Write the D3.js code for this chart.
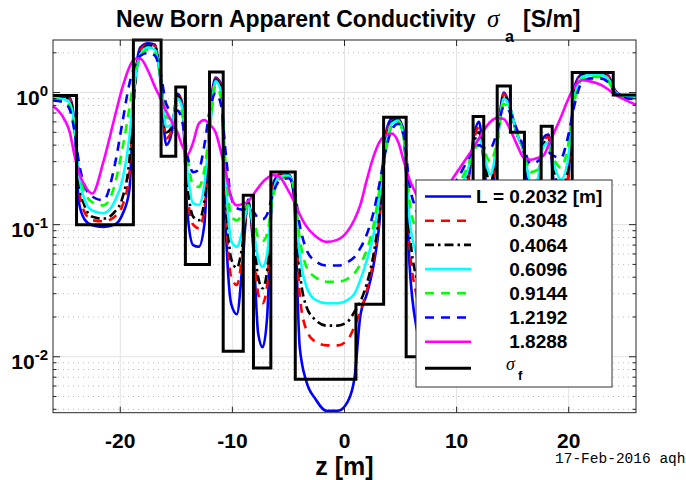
<!DOCTYPE html>
<html>
<head>
  <title>New Born Apparent Conductivity</title>
  <style>
    body { margin: 0; background: #fff; }
    svg text { font-family: "Liberation Sans", Arial, sans-serif; font-weight: bold; fill: #000; }
  </style>
</head>
<body>
  <div id="chart"></div>
  <script src="https://d3js.org/d3.v7.min.js"></script>
  <script>
    // depth samples (m), shared by every smoothed curve
    const zs = [-26,-25,-24.5,-24.1,-23.7,-23.2,-22.5,-21.5,-20.5,-19.8,
      -19.2,-18.7,-18.2,-17.5,-16.9,-16.4,-15.9,-15.4,-14.9,-14.5,
      -14,-13.5,-13,-12.5,-12,-11.5,-11,-10.6,-10.1,-9.6,
      -9.1,-8.6,-8.1,-7.7,-7.3,-6.9,-6.4,-5.8,-5,-4.5,
      -4,-3.4,-2.6,-1.6,-0.6,0.3,0.9,1.4,2,2.6,
      3.1,3.6,4.2,4.8,5.3,5.8,6.4,7.2,8,8.8,
      9.6,10.3,11,11.5,12,12.5,13,13.6,14.2,14.8,
      15.4,16,16.6,17.2,17.7,18.2,18.7,19.3,19.9,20.5,
      21.2,22,22.8,23.5,24.1,24.8,25.4,26];

    // apparent conductivity (S/m) for each spacing L
    const sigL0203 = [0.93,0.93,0.91,0.6,0.15,0.11,0.099,0.096,0.1,0.12,
      0.18,1.2,2.2,2.36,2.3,1.2,0.4,0.5,0.98,0.85,
      0.12,0.07,0.068,0.1,0.7,1.3,1.15,0.1,0.025,0.021,
      0.05,0.155,0.06,0.015,0.0118,0.02,0.2,0.24,0.24,0.16,
      0.012,0.0065,0.0048,0.0039,0.0039,0.0046,0.007,0.02,0.03,0.05,
      0.1,0.45,0.63,0.63,0.5,0.05,0.017,0.011,0.012,0.08,
      0.14,0.15,0.2,0.45,0.6,0.25,0.13,0.4,1.0,0.75,
      0.48,0.35,0.13,0.15,0.45,0.48,0.2,0.15,0.2,1.1,
      1.38,1.4,1.4,1.35,1.05,0.95,0.95,0.95];
    const sigL0305 = [0.93,0.92,0.89,0.6,0.19,0.125,0.108,0.106,0.115,0.14,
      0.24,1.1,2.1,2.32,2.25,1.3,0.45,0.52,0.96,0.82,
      0.17,0.1,0.094,0.13,0.6,1.28,1.1,0.14,0.04,0.035,
      0.06,0.15,0.07,0.03,0.0254,0.035,0.19,0.24,0.24,0.17,
      0.03,0.016,0.013,0.0122,0.0122,0.0135,0.017,0.022,0.032,0.055,
      0.11,0.38,0.62,0.62,0.45,0.07,0.03,0.02,0.025,0.09,
      0.14,0.16,0.22,0.42,0.55,0.28,0.17,0.4,0.98,0.75,
      0.48,0.36,0.16,0.18,0.43,0.46,0.22,0.17,0.22,1.0,
      1.36,1.39,1.39,1.33,1.04,0.95,0.95,0.95];
    const sigL0406 = [0.92,0.91,0.87,0.6,0.22,0.14,0.115,0.111,0.125,0.16,
      0.3,1.1,2.0,2.27,2.2,1.3,0.5,0.55,0.94,0.8,
      0.2,0.115,0.108,0.15,0.55,1.25,1.05,0.17,0.055,0.047,
      0.07,0.145,0.08,0.04,0.033,0.045,0.18,0.235,0.24,0.18,
      0.045,0.024,0.019,0.0172,0.0172,0.0185,0.022,0.026,0.036,0.06,
      0.12,0.33,0.6,0.62,0.45,0.09,0.04,0.028,0.035,0.1,
      0.15,0.17,0.24,0.4,0.5,0.3,0.2,0.4,0.95,0.75,
      0.48,0.36,0.18,0.2,0.4,0.44,0.25,0.19,0.25,0.95,
      1.35,1.38,1.38,1.3,1.03,0.95,0.95,0.95];
    const sigL0610 = [0.91,0.89,0.83,0.58,0.25,0.155,0.128,0.122,0.15,0.22,
      0.45,1.2,1.95,2.2,2.1,1.3,0.55,0.58,0.9,0.78,
      0.25,0.145,0.141,0.2,0.55,1.22,1.0,0.22,0.075,0.068,
      0.09,0.14,0.09,0.055,0.048,0.06,0.17,0.23,0.235,0.19,
      0.06,0.034,0.027,0.0254,0.0254,0.027,0.03,0.038,0.054,0.085,
      0.16,0.35,0.58,0.61,0.45,0.11,0.06,0.04,0.05,0.11,
      0.16,0.19,0.26,0.38,0.45,0.32,0.24,0.4,0.9,0.75,
      0.48,0.36,0.21,0.22,0.38,0.42,0.28,0.22,0.3,0.9,
      1.32,1.36,1.36,1.28,1.02,0.94,0.94,0.94];
    const sigL0914 = [0.89,0.86,0.78,0.54,0.27,0.18,0.148,0.14,0.2,0.38,
      0.75,1.4,1.85,2.12,2.0,1.3,0.65,0.63,0.82,0.72,
      0.32,0.2,0.193,0.26,0.55,1.12,0.9,0.28,0.115,0.108,
      0.12,0.14,0.11,0.08,0.075,0.085,0.16,0.22,0.23,0.19,
      0.08,0.048,0.04,0.037,0.037,0.039,0.043,0.05,0.065,0.1,
      0.18,0.33,0.55,0.6,0.45,0.15,0.09,0.06,0.07,0.12,
      0.17,0.21,0.28,0.36,0.4,0.35,0.3,0.42,0.82,0.72,
      0.5,0.37,0.25,0.26,0.36,0.38,0.31,0.27,0.38,0.85,
      1.26,1.31,1.31,1.22,1.0,0.92,0.91,0.9];
    const sigL1219 = [0.87,0.84,0.74,0.52,0.3,0.2,0.163,0.153,0.28,0.6,
      1.15,1.6,1.9,2.0,1.9,1.4,0.82,0.72,0.73,0.62,
      0.33,0.25,0.26,0.4,0.75,0.99,0.8,0.35,0.16,0.133,
      0.13,0.135,0.125,0.112,0.11,0.12,0.17,0.215,0.225,0.19,
      0.1,0.065,0.053,0.049,0.049,0.052,0.057,0.066,0.085,0.125,
      0.2,0.34,0.52,0.58,0.47,0.2,0.13,0.09,0.09,0.13,
      0.19,0.24,0.31,0.37,0.4,0.38,0.38,0.5,0.78,0.7,
      0.52,0.38,0.29,0.3,0.34,0.35,0.33,0.32,0.45,0.8,
      1.2,1.28,1.28,1.2,1.0,0.91,0.9,0.89];
    const sigL1829 = [0.79,0.63,0.5,0.34,0.25,0.2,0.172,0.3,0.65,1.1,
      1.55,1.8,1.8,1.45,1.1,0.9,0.72,0.6,0.5,0.4,
      0.34,0.42,0.58,0.62,0.57,0.5,0.35,0.25,0.16,0.14,
      0.143,0.15,0.17,0.19,0.21,0.225,0.237,0.23,0.18,0.15,
      0.12,0.097,0.082,0.074,0.077,0.09,0.11,0.14,0.22,0.33,
      0.42,0.47,0.49,0.42,0.3,0.22,0.17,0.13,0.13,0.17,
      0.22,0.27,0.33,0.38,0.45,0.53,0.6,0.64,0.63,0.52,
      0.4,0.32,0.31,0.32,0.33,0.4,0.5,0.65,0.87,1.1,
      1.24,1.21,1.15,1.06,0.97,0.9,0.85,0.81];

    // formation conductivity sigma_f: layer tops and values
    const stepZ = [-26,-23.9,-18.83,-16.36,-15.05,-14.19,-12.04,-10.82,-9.03,-8.12,
      -6.57,-4.39,1.02,3.49,5.5,8.4,11.47,12.42,13.62,14.8,
      16.05,17.54,18.53,20.31,23.97,26];
    const stepV = [0.95,0.1,2.5,0.33,1.1,0.05,1.43,0.011,0.167,0.0082,
      0.25,0.00675,0.025,0.65,0.01,0.15,0.66,0.12,1.12,0.5,
      0.12,0.556,0.15,1.42,0.96,0.96];

    const spacings = ["0.2032", "0.3048", "0.4064", "0.6096", "0.9144", "1.2192", "1.8288"];
    const xTicks = [-20, -10, 0, 10, 20];
    const yExponents = [-2, -1, 0];

    const series = [
      { vals: sigL0203, color: "#0000ff", dash: null },
      { vals: sigL0305, color: "#ff0000", dash: "9,7" },
      { vals: sigL0406, color: "#000000", dash: "9,4,2.5,4" },
      { vals: sigL0610, color: "#00ffff", dash: null },
      { vals: sigL0914, color: "#00ff00", dash: "9,7" },
      { vals: sigL1219, color: "#0000ff", dash: "9,7" },
      { vals: sigL1829, color: "#ff00ff", dash: null }
    ];

    const svg = d3.select("#chart")
      .append("svg")
      .attr("width", 686)
      .attr("height", 480);

    const plotL = 53, plotR = 636, plotT = 40, plotB = 412.7;

    const xScale = d3.scaleLinear().domain([-26, 26]).range([plotL, plotR]);
    const yScale = d3.scaleLog().domain([0.00377, 2.5]).range([plotB, plotT]);

    // grid
    const majors = yExponents.map(e => Math.pow(10, e));
    const minors = [];
    for (let e = -3; e <= 0; e++) {
      for (let k = 2; k <= 9; k++) {
        const v = k * Math.pow(10, e);
        if (v > 0.00377 && v < 2.5) minors.push(v);
      }
    }

    svg.append("g").selectAll("line").data(minors).enter().append("line")
      .attr("x1", plotL).attr("x2", plotR)
      .attr("y1", d => yScale(d)).attr("y2", d => yScale(d))
      .attr("stroke", "#b8b8b8").attr("stroke-width", 1)
      .attr("stroke-dasharray", "1,4");

    svg.append("g").selectAll("line").data(majors).enter().append("line")
      .attr("x1", plotL).attr("x2", plotR)
      .attr("y1", d => yScale(d)).attr("y2", d => yScale(d))
      .attr("stroke", "#e3e3e3").attr("stroke-width", 1);

    svg.append("g").selectAll("line").data(xTicks).enter().append("line")
      .attr("x1", d => xScale(d)).attr("x2", d => xScale(d))
      .attr("y1", plotT).attr("y2", plotB)
      .attr("stroke", "#e3e3e3").attr("stroke-width", 1);

    // curves
    const line = d3.line()
      .x(d => xScale(d[0]))
      .y(d => yScale(d[1]))
      .curve(d3.curveMonotoneX);

    series.forEach(s => {
      svg.append("path")
        .datum(zs.map((z, i) => [z, s.vals[i]]))
        .attr("d", line)
        .attr("fill", "none")
        .attr("stroke", s.color)
        .attr("stroke-width", 2.6)
        .attr("stroke-dasharray", s.dash);
    });

    const stepLine = d3.line()
      .x(d => xScale(d[0]))
      .y(d => yScale(d[1]))
      .curve(d3.curveStepAfter);

    svg.append("path")
      .datum(stepZ.map((z, i) => [z, stepV[i]]))
      .attr("d", stepLine)
      .attr("fill", "none")
      .attr("stroke", "#000")
      .attr("stroke-width", 3);

    // axes box and ticks
    svg.append("rect")
      .attr("x", plotL).attr("y", plotT)
      .attr("width", plotR - plotL).attr("height", plotB - plotT)
      .attr("fill", "none").attr("stroke", "#262626").attr("stroke-width", 1);

    const tickColor = "#262626";
    function yTicks(vals, len) {
      const g = svg.append("g");
      g.selectAll(".l").data(vals).enter().append("line")
        .attr("x1", plotL).attr("x2", plotL + len)
        .attr("y1", d => yScale(d)).attr("y2", d => yScale(d))
        .attr("stroke", tickColor);
      g.selectAll(".r").data(vals).enter().append("line")
        .attr("x1", plotR).attr("x2", plotR - len)
        .attr("y1", d => yScale(d)).attr("y2", d => yScale(d))
        .attr("stroke", tickColor);
    }
    yTicks(majors, 7);
    yTicks(minors, 3.5);

    const gx = svg.append("g");
    gx.selectAll(".b").data(xTicks).enter().append("line")
      .attr("x1", d => xScale(d)).attr("x2", d => xScale(d))
      .attr("y1", plotB).attr("y2", plotB - 6)
      .attr("stroke", tickColor);
    gx.selectAll(".t").data(xTicks).enter().append("line")
      .attr("x1", d => xScale(d)).attr("x2", d => xScale(d))
      .attr("y1", plotT).attr("y2", plotT + 6)
      .attr("stroke", tickColor);

    // tick labels
    gx.selectAll("text").data(xTicks).enter().append("text")
      .attr("x", d => xScale(d))
      .attr("y", 447.5)
      .attr("text-anchor", "middle")
      .style("font-size", "21px")
      .text(d => d);

    const yl = svg.append("g").selectAll("text").data(yExponents).enter().append("text")
      .attr("x", 48)
      .attr("y", d => yScale(Math.pow(10, d)) + 12.5)
      .attr("text-anchor", "end")
      .style("font-size", "21px");
    yl.append("tspan").text("10");
    yl.append("tspan").attr("dy", -9).style("font-size", "15px").text(d => d);

    // title
    const title = svg.append("text")
      .attr("x", 116)
      .attr("y", 26.5)
      .style("font-size", "23px");
    title.append("tspan").text("New Born Apparent Conductivity");
    title.append("tspan")
      .attr("x", 487)
      .style("font-family", "'Liberation Serif', serif")
      .style("font-style", "italic").style("font-weight", "normal")
      .style("font-size", "25px")
      .text("\u03c3");
    title.append("tspan").attr("x", 505).attr("dy", 15).style("font-size", "16px").text("a");
    title.append("tspan").attr("x", 523).attr("dy", -15).text("[S/m]");

    svg.append("text")
      .attr("x", (plotL + plotR) / 2)
      .attr("y", 474.5)
      .attr("text-anchor", "middle")
      .style("font-size", "25px")
      .text("z [m]");

    svg.append("text")
      .attr("x", 555)
      .attr("y", 463)
      .style("font-family", "'Liberation Mono', monospace")
      .style("font-weight", "normal")
      .style("font-size", "14.5px")
      .text("17-Feb-2016 aqh");

    // legend
    const lg = svg.append("g");
    lg.append("rect")
      .attr("x", 416).attr("y", 180)
      .attr("width", 196).attr("height", 207)
      .attr("fill", "#fff").attr("stroke", "#333").attr("stroke-width", 1);

    const rowY = i => 196.5 + 24.2 * i;
    const prefix = lg.append("text")
      .attr("x", 476).attr("y", rowY(0) + 6.7)
      .style("font-size", "19px")
      .text("L\u00a0=\u00a0");
    const numX = 476 + prefix.node().getComputedTextLength();

    series.forEach((s, i) => {
      lg.append("line")
        .attr("x1", 425).attr("x2", 471)
        .attr("y1", rowY(i)).attr("y2", rowY(i))
        .attr("stroke", s.color).attr("stroke-width", 2.6)
        .attr("stroke-dasharray", s.dash);
      lg.append("text")
        .attr("x", numX).attr("y", rowY(i) + 6.7)
        .style("font-size", "19px")
        .text(spacings[i] + (i === 0 ? " [m]" : ""));
    });

    lg.append("line")
      .attr("x1", 425).attr("x2", 471)
      .attr("y1", 368.3).attr("y2", 368.3)
      .attr("stroke", "#000").attr("stroke-width", 3);
    const sf = lg.append("text").attr("x", 506).attr("y", 369.5).style("font-size", "18px");
    sf.append("tspan")
      .style("font-family", "'Liberation Serif', serif")
      .style("font-style", "italic").style("font-weight", "normal")
      .text("\u03c3");
    sf.append("tspan").attr("dx", 3).attr("dy", 10).style("font-size", "13px").text("f");
  </script>
</body>
</html>
